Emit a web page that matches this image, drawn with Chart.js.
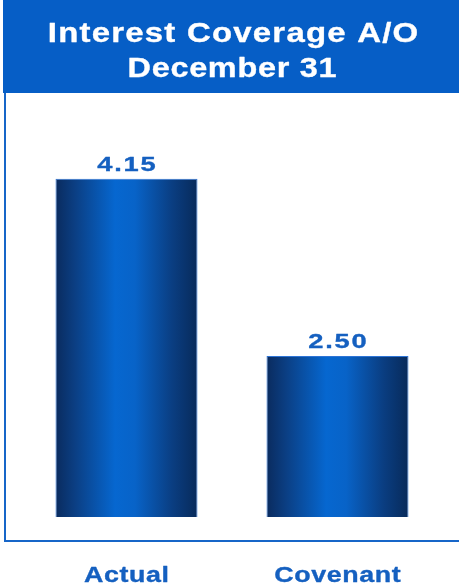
<!DOCTYPE html>
<html>
<head>
<meta charset="utf-8">
<script src="https://cdn.jsdelivr.net/npm/chart.js@4.4.1/dist/chart.umd.min.js"></script>
<style>
  html, body { margin: 0; padding: 0; background: #fff; }
  #wrap { width: 459px; height: 588px; position: relative; }
</style>
</head>
<body>
<div id="wrap"><canvas id="chart" width="459" height="588"></canvas></div>
<script>
const titleLines = ["Interest Coverage A/O", "December 31"];
const categories = ["Actual", "Covenant"];
const ratios = [4.15, 2.50];

const BLUE = "#065ec6";
const LABEL_BLUE = "#1560c0";
const FONT = "'Liberation Sans', Arial, sans-serif";
const BAR_PCT = 0.673;

// horizontal shading so each bar looks like a rounded column
function barGradient(ctx, left, right) {
  const g = ctx.createLinearGradient(left, 0, right, 0);
  g.addColorStop(0, "#0a2b5e");
  g.addColorStop(0.14, "#0b3f84");
  g.addColorStop(0.42, "#0667d0");
  g.addColorStop(0.56, "#0863c8");
  g.addColorStop(0.82, "#0a3e82");
  g.addColorStop(1, "#082a5a");
  return g;
}

// wide lettering: stretch the context horizontally and space the glyphs
function wideText(c, text, x, y, size, sx, spacing, color) {
  c.save();
  c.translate(x, y);
  c.scale(sx, 1);
  c.font = "bold " + size + "px " + FONT;
  c.fillStyle = color;
  c.strokeStyle = color;
  c.lineWidth = 0.35;
  c.lineJoin = "round";
  c.textAlign = "center";
  c.textBaseline = "alphabetic";
  if ("letterSpacing" in c) c.letterSpacing = spacing + "px";
  c.fillText(text, spacing / 2, 0);
  c.strokeText(text, spacing / 2, 0);
  c.restore();
}

// blue banner with the title, and the open frame round the plot
const frame = {
  id: "frame",
  beforeDraw(chart) {
    const c = chart.ctx;
    c.save();
    c.fillStyle = BLUE;
    c.fillRect(3, 0, chart.width - 3, 93);
    c.strokeStyle = "#1766c8";
    c.lineWidth = 2;
    c.beginPath();
    c.moveTo(5, 93);
    c.lineTo(5, 541);
    c.lineTo(chart.width + 2, 541);
    c.stroke();
    c.restore();
    wideText(c, titleLines[0], 233, 42, 27, 1.22, 1, "#ffffff");
    wideText(c, titleLines[1], 232, 77, 27, 1.2, 0.6, "#ffffff");
  }
};

// value above each bar and category name under the frame
const barLabels = {
  id: "barLabels",
  afterDatasetsDraw(chart) {
    const c = chart.ctx;
    const meta = chart.getDatasetMeta(0);
    const x = chart.scales.x;
    meta.data.forEach((bar, i) => {
      wideText(c, ratios[i].toFixed(2), bar.x, bar.y - 8, 21, 1.3, 1.4, LABEL_BLUE);
    });
    categories.forEach((name, i) => {
      wideText(c, name, x.getPixelForValue(i), 582, 22, 1.22, 0.5, LABEL_BLUE);
    });
  }
};

new Chart(document.getElementById("chart"), {
  type: "bar",
  data: {
    labels: categories,
    datasets: [{
      data: ratios,
      backgroundColor(context) {
        const chart = context.chart;
        const x = chart.scales.x;
        if (!x || !chart.chartArea || context.dataIndex === undefined) return BLUE;
        const center = x.getPixelForValue(context.dataIndex);
        const half = (x.width / categories.length) * BAR_PCT / 2;
        if (!isFinite(center) || !isFinite(half)) return BLUE;
        return barGradient(chart.ctx, center - half, center + half);
      },
      borderColor: "#2d74d6",
      borderWidth: 1,
      categoryPercentage: 1,
      barPercentage: BAR_PCT
    }]
  },
  options: {
    responsive: false,
    animation: false,
    layout: { padding: { left: 21, right: 16, top: 125, bottom: 71 } },
    plugins: {
      legend: { display: false },
      tooltip: { enabled: false },
      title: { display: false }
    },
    scales: {
      x: { display: false },
      y: { display: false, min: 1, max: 4.65 }
    }
  },
  plugins: [frame, barLabels]
});
</script>
</body>
</html>
